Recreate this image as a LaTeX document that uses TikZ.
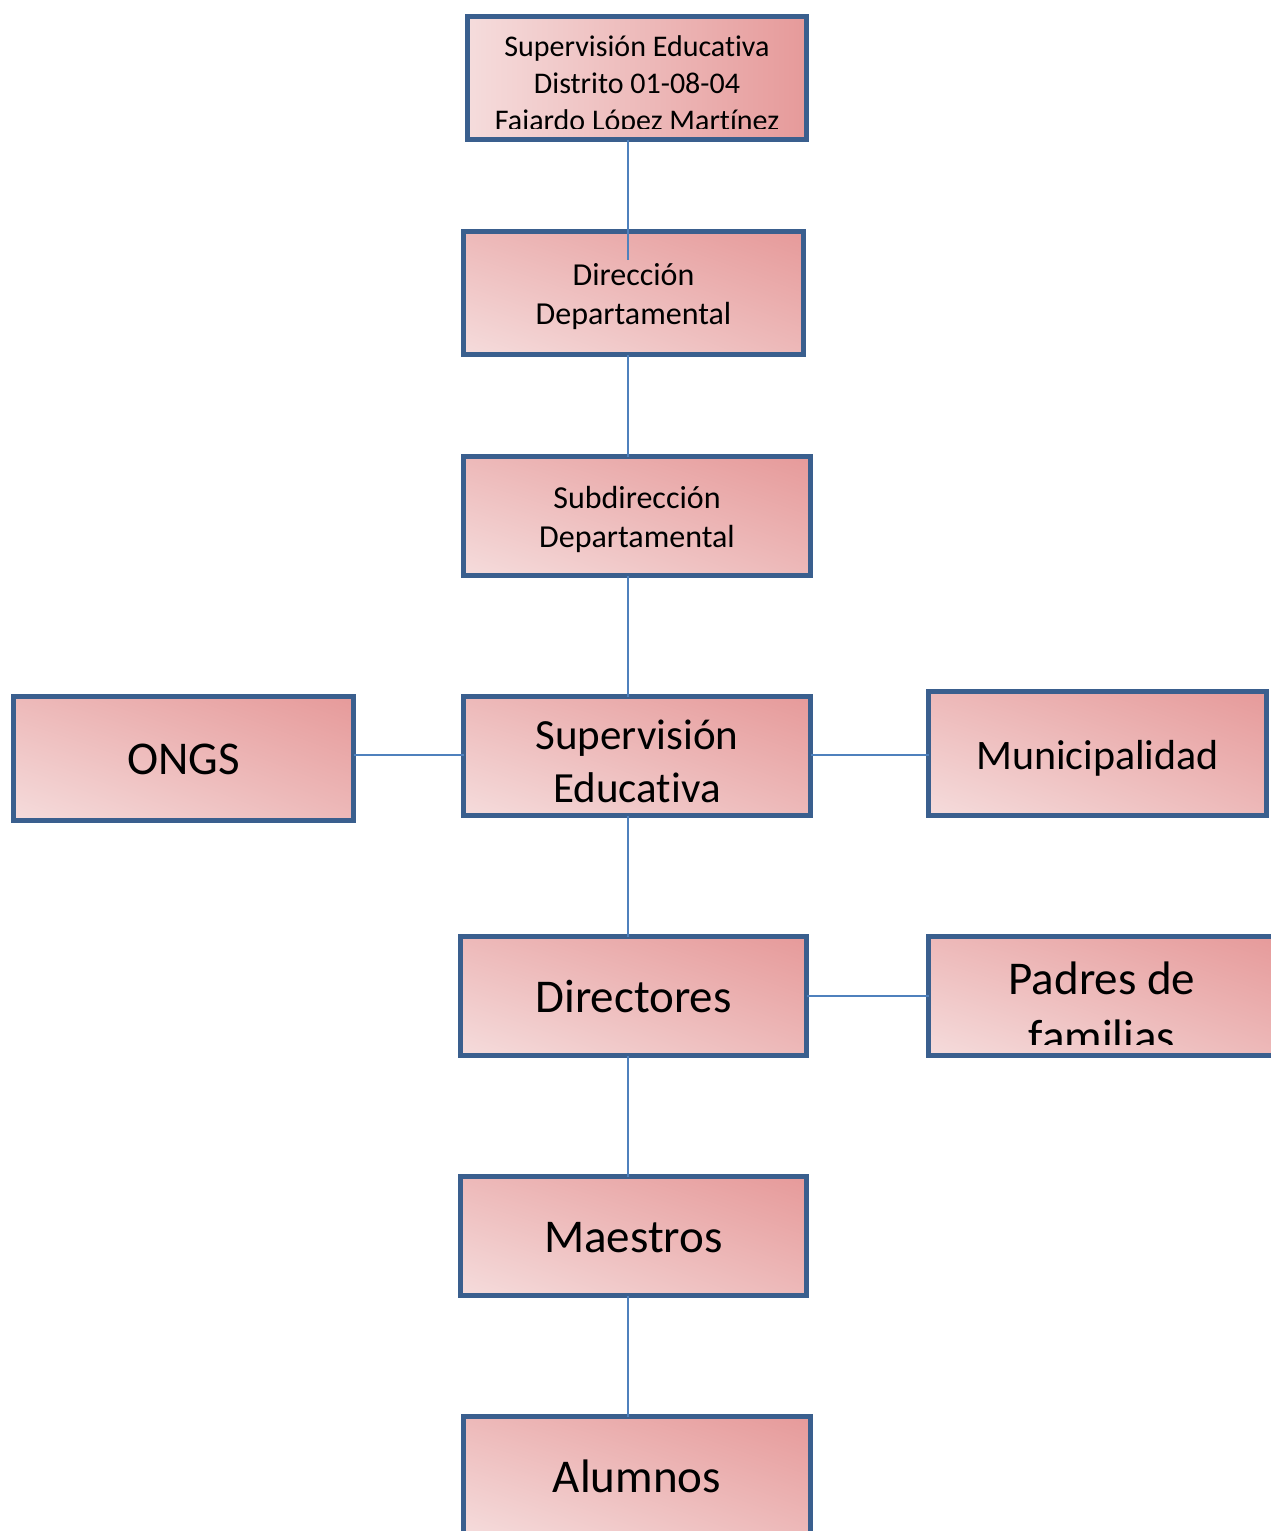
\documentclass[tikz,border=0pt]{standalone}
\usepackage{fontspec}
\setmainfont{Carlito}[RawFeature={-liga;-dlig}]
\usetikzlibrary{shadings}
\definecolor{bordc}{HTML}{3A5F8E}
\definecolor{linec}{HTML}{4F81BD}
\definecolor{pkdark}{HTML}{E69A9A}
\definecolor{pkmid}{HTML}{EDB9B9}
\definecolor{pklight}{HTML}{F5DCDC}
\tikzset{
  box/.style={draw=bordc, line width=5.5pt, rectangle, inner sep=0pt, outer sep=0pt,
    lower left=pklight, upper right=pkdark, upper left=pkmid, lower right=pkmid},
  hbox/.style={draw=bordc, line width=5.5pt, rectangle, inner sep=0pt, outer sep=0pt,
    left color=pklight, right color=pkdark},
  conn/.style={draw=linec, line width=1.8pt},
  fA/.style={font=\fontsize{30pt}{37pt}\selectfont},
  fB/.style={font=\fontsize{32pt}{39pt}\selectfont},
  fC/.style={font=\fontsize{43pt}{53pt}\selectfont},
  fD/.style={font=\fontsize{47pt}{58pt}\selectfont},
  fE/.style={font=\fontsize{42pt}{51pt}\selectfont},
  % #1 font style, #2 vertical offset, #3 bottom clip inset, #4 name, #5 text
  lbl/.style n args={5}{path picture={
    \clip ([xshift=5pt,yshift=-5pt]path picture bounding box.north west) rectangle ([xshift=-5pt,yshift=#3]path picture bounding box.south east);
    \node[#1, align=center, text=black, inner sep=0pt] (#4) at ([yshift=#2]path picture bounding box.center) {#5};}},
}
\begin{document}
\begin{tikzpicture}[x=1pt,y=1pt]
\useasboundingbox[fill=white] (0,0) rectangle (1270,-1531);
\coordinate (spine) at (628,0);
\coordinate (dirin) at (628,-260);

% boxes
\node[hbox, minimum width=339pt, minimum height=123pt,
  lbl={fA}{-8pt}{11pt}{toptxt}{Supervisión Educativa\\Distrito 01-08-04\\Fajardo López Martínez}] (top) at (637,-78) {};
\node[box, minimum width=340pt, minimum height=123pt,
  lbl={fB}{-4pt}{5pt}{dirtxt}{Dirección\\Departamental}] (dir) at (633.5,-293) {};
\node[box, minimum width=347pt, minimum height=119pt,
  lbl={fB}{-3pt}{5pt}{subtxt}{Subdirección\\Departamental}] (sub) at (637,-516) {};
\node[box, minimum width=347pt, minimum height=119pt,
  lbl={fC}{-5pt}{5pt}{suptxt}{Supervisión\\Educativa}] (sup) at (637,-756) {};
\node[box, minimum width=340pt, minimum height=124pt,
  lbl={fD}{-1pt}{5pt}{ongstxt}{ONGS}] (ongs) at (183.5,-758.5) {};
\node[box, minimum width=338pt, minimum height=124pt,
  lbl={fE}{-5pt}{5pt}{munitxt}{Municipalidad}] (muni) at (1097.5,-753.5) {};
\node[box, minimum width=346pt, minimum height=119pt,
  lbl={fD}{0pt}{5pt}{dirstxt}{Directores}] (dirs) at (633.5,-996) {};
\node[box, minimum width=347pt, minimum height=119pt,
  lbl={fD}{-11pt}{11pt}{padtxt}{Padres de\\familias}] (padres) at (1102,-996) {};
\node[box, minimum width=346pt, minimum height=119pt,
  lbl={fD}{-2pt}{5pt}{maestxt}{Maestros}] (maes) at (633.5,-1236) {};
\node[box, minimum width=347pt, minimum height=119pt,
  lbl={fD}{0pt}{5pt}{alumtxt}{Alumnos}] (alum) at (637,-1476) {};

% connectors
\draw[conn] (top.south -| spine) -- (dirin);
\draw[conn] (dir.south -| spine) -- (sub.north -| spine);
\draw[conn] (sub.south -| spine) -- (sup.north -| spine);
\draw[conn] (sup.south -| spine) -- (dirs.north -| spine);
\draw[conn] (dirs.south -| spine) -- (maes.north -| spine);
\draw[conn] (maes.south -| spine) -- (alum.north -| spine);
\draw[conn] (ongs.east |- 0,-755) -- (sup.west |- 0,-755);
\draw[conn] (sup.east |- 0,-755) -- (muni.west |- 0,-755);
\draw[conn] (dirs.east) -- (dirs.east -| padres.west);
\end{tikzpicture}
\end{document}
